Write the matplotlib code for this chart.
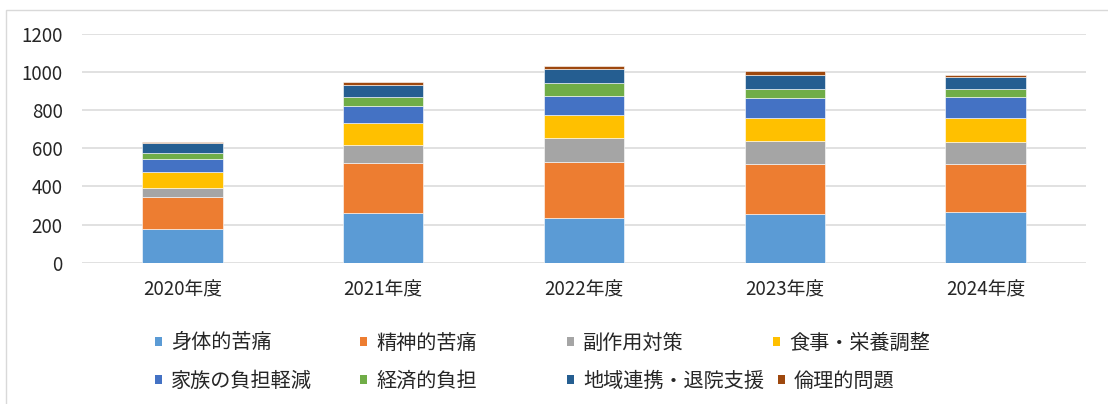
import matplotlib
matplotlib.use("Agg")
import matplotlib.pyplot as plt
from matplotlib.patches import Patch, Rectangle
import numpy as np

plt.rcParams['font.family'] = ['Noto Sans CJK JP', 'DejaVu Sans']

# data
years = ["2020年度", "2021年度", "2022年度", "2023年度", "2024年度"]
series_names = ["身体的苦痛", "精神的苦痛", "副作用対策", "食事・栄養調整",
                "家族の負担軽減", "経済的負担", "地域連携・退院支援", "倫理的問題"]
shintai = [175, 259, 233, 257, 268]
seishin = [168, 262, 294, 262, 248]
fukusayou = [51, 96, 129, 121, 119]
shokuji = [80, 114, 121, 119, 123]
kazoku = [70, 93, 99, 104, 110]
keizai = [30, 45, 67, 50, 42]
chiiki = [52, 62, 72, 72, 63]
rinri = [6, 15, 19, 21, 13]
colors = ["#5B9BD5", "#ED7D31", "#A5A5A5", "#FFC000",
          "#4472C4", "#70AD47", "#255E91", "#9E480E"]

values = [shintai, seishin, fukusayou, shokuji, kazoku, keizai, chiiki, rinri]

W, H = 1108, 404
fig = plt.figure(figsize=(W / 100, H / 100), dpi=100)
ax = fig.add_axes([82 / W, 1 - 262.7 / H, (1086 - 82) / W, (262.7 - 34) / H])

x = np.arange(len(years))
bottom = np.zeros(len(years))
handles = []
for name, vals, c in zip(series_names, values, colors):
    ax.bar(x, vals, width=0.4, bottom=bottom, color=c, edgecolor="white",
           linewidth=0.4, zorder=3)
    bottom += np.array(vals)
    handles.append(Patch(facecolor=c, label=name))

ax.set_xlim(-0.5, len(years) - 0.5)
ax.set_ylim(0, 1200)
ax.set_yticks(range(0, 1201, 200))
ax.set_xticks(x)
ax.set_xticklabels(years)
ax.yaxis.grid(True, color="#D9D9D9", linewidth=1.1, zorder=0)
ax.tick_params(axis="both", length=0, labelsize=13.5, colors="#262626")
ax.tick_params(axis="y", pad=14)
ax.tick_params(axis="x", pad=12)
for s in ax.spines.values():
    s.set_visible(False)

# chart frame (cut off at right and bottom)
fig.add_artist(Rectangle((6 / W, -0.5), 2, 1.5 - 10 / H, transform=fig.transFigure,
                         fill=False, edgecolor="#D9D9D9", linewidth=1))

# legend, four equal columns, filled row by row
col_x = [155, 360, 567, 773]
row_y = [343, 381]
for i, h in enumerate(handles):
    r, c = divmod(i, 4)
    cx = col_x[c] + (5 if (r == 1 and c == 3) else 0)
    fig.legend(handles=[h], loc="center left",
               bbox_to_anchor=(cx / W, 1 - row_y[r] / H),
               frameon=False, fontsize=14.5, handlelength=0.35, handleheight=0.35,
               handletextpad=0.45, borderpad=0, borderaxespad=0,
               labelcolor="#262626")

fig.savefig("out.png", dpi=100)
